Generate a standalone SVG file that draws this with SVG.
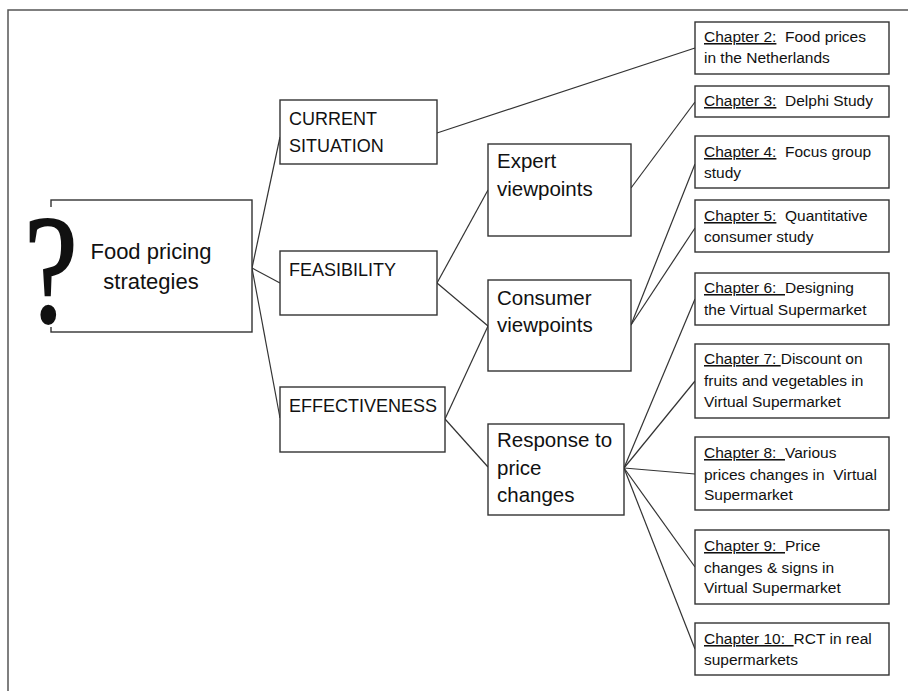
<svg xmlns="http://www.w3.org/2000/svg" width="908" height="691" viewBox="0 0 908 691">
<style>
.frame{fill:none;stroke:#555;stroke-width:1.5}
.box{fill:#fff;stroke:#333;stroke-width:1.4}
.conn line{stroke:#333;stroke-width:1.2}
text{font-family:"Liberation Sans",Arial,sans-serif;fill:#111}
.main{font-size:22px}
.l1{font-size:18px}
.l2{font-size:20.5px}
.ch{font-size:15.5px}
.u{text-decoration:underline}
.qm{font-family:"Liberation Serif","Times New Roman",serif;font-size:154px;fill:#111;stroke:#111;stroke-width:2}
</style>
<rect width="908" height="691" fill="#fff"/>
<path class="frame" d="M8,691 V10 H908"/>

<g id="connectors" class="conn">
<line x1="252" y1="268" x2="280" y2="137"/>
<line x1="252" y1="268" x2="280" y2="283"/>
<line x1="252" y1="268" x2="280" y2="418"/>
<line x1="437" y1="133" x2="695" y2="48"/>
<line x1="437" y1="283" x2="488" y2="190"/>
<line x1="437" y1="283" x2="488" y2="326"/>
<line x1="445" y1="419" x2="488" y2="326"/>
<line x1="445" y1="419" x2="488" y2="467"/>
<line x1="631" y1="188" x2="695" y2="102"/>
<line x1="631" y1="325" x2="695" y2="164"/>
<line x1="631" y1="325" x2="695" y2="228"/>
<line x1="624" y1="468" x2="695" y2="299"/>
<line x1="624" y1="468" x2="695" y2="381"/>
<line x1="624" y1="468" x2="695" y2="474"/>
<line x1="624" y1="468" x2="695" y2="567"/>
<line x1="624" y1="468" x2="695" y2="649"/>
</g>

<g id="root">
<rect class="box" x="51" y="200" width="201" height="132"/>
<rect x="18" y="207" width="60" height="120" fill="#fff"/>
<text class="qm" transform="translate(51,322) scale(0.78,1)" x="0" y="0" text-anchor="middle">?</text>
<text class="main" x="151" y="259" text-anchor="middle">Food pricing</text>
<text class="main" x="151" y="289" text-anchor="middle">strategies</text>
</g>

<g id="current">
<rect class="box" x="280" y="100" width="157" height="64"/>
<text class="l1" x="289" y="125">CURRENT</text>
<text class="l1" x="289" y="152">SITUATION</text>
</g>

<g id="feasibility">
<rect class="box" x="280" y="251" width="157" height="64"/>
<text class="l1" x="289" y="276">FEASIBILITY</text>
</g>

<g id="effectiveness">
<rect class="box" x="280" y="387" width="165" height="65"/>
<text class="l1" x="289" y="412">EFFECTIVENESS</text>
</g>

<g id="expert">
<rect class="box" x="488" y="144" width="143" height="92"/>
<text class="l2" x="497" y="168">Expert</text>
<text class="l2" x="497" y="196">viewpoints</text>
</g>

<g id="consumer">
<rect class="box" x="488" y="280" width="143" height="91"/>
<text class="l2" x="497" y="305">Consumer</text>
<text class="l2" x="497" y="332">viewpoints</text>
</g>

<g id="response">
<rect class="box" x="488" y="424" width="136" height="91"/>
<text class="l2" x="497" y="447">Response to</text>
<text class="l2" x="497" y="475">price</text>
<text class="l2" x="497" y="502">changes</text>
</g>

<g id="ch2">
<rect class="box" x="695" y="22" width="194" height="52"/>
<text class="ch" x="704" y="42" xml:space="preserve"><tspan class="u">Chapter 2:</tspan>  Food prices</text>
<text class="ch" x="704" y="63">in the Netherlands</text>
</g>

<g id="ch3">
<rect class="box" x="695" y="86" width="194" height="31"/>
<text class="ch" x="704" y="106" xml:space="preserve"><tspan class="u">Chapter 3:</tspan>  Delphi Study</text>
</g>

<g id="ch4">
<rect class="box" x="695" y="136" width="194" height="52"/>
<text class="ch" x="704" y="157" xml:space="preserve"><tspan class="u">Chapter 4:</tspan>  Focus group</text>
<text class="ch" x="704" y="178">study</text>
</g>

<g id="ch5">
<rect class="box" x="695" y="200" width="194" height="52"/>
<text class="ch" x="704" y="221" xml:space="preserve"><tspan class="u">Chapter 5:</tspan>  Quantitative</text>
<text class="ch" x="704" y="242">consumer study</text>
</g>

<g id="ch6">
<rect class="box" x="695" y="273" width="194" height="52"/>
<text class="ch" x="704" y="293" xml:space="preserve"><tspan class="u">Chapter 6:  </tspan>Designing</text>
<text class="ch" x="704" y="315">the Virtual Supermarket</text>
</g>

<g id="ch7">
<rect class="box" x="695" y="344" width="194" height="74"/>
<text class="ch" x="704" y="364" xml:space="preserve"><tspan class="u">Chapter 7: </tspan>Discount on</text>
<text class="ch" x="704" y="386">fruits and vegetables in</text>
<text class="ch" x="704" y="407">Virtual Supermarket</text>
</g>

<g id="ch8">
<rect class="box" x="695" y="437" width="194" height="73"/>
<text class="ch" x="704" y="458" xml:space="preserve"><tspan class="u">Chapter 8:  </tspan>Various</text>
<text class="ch" x="704" y="480" xml:space="preserve">prices changes in  Virtual</text>
<text class="ch" x="704" y="500">Supermarket</text>
</g>

<g id="ch9">
<rect class="box" x="695" y="530" width="194" height="74"/>
<text class="ch" x="704" y="551" xml:space="preserve"><tspan class="u">Chapter 9:  </tspan>Price</text>
<text class="ch" x="704" y="573">changes &amp; signs in</text>
<text class="ch" x="704" y="593">Virtual Supermarket</text>
</g>

<g id="ch10">
<rect class="box" x="695" y="623" width="194" height="52"/>
<text class="ch" x="704" y="644" xml:space="preserve"><tspan class="u">Chapter 10:  </tspan>RCT in real</text>
<text class="ch" x="704" y="665">supermarkets</text>
</g>
</svg>
